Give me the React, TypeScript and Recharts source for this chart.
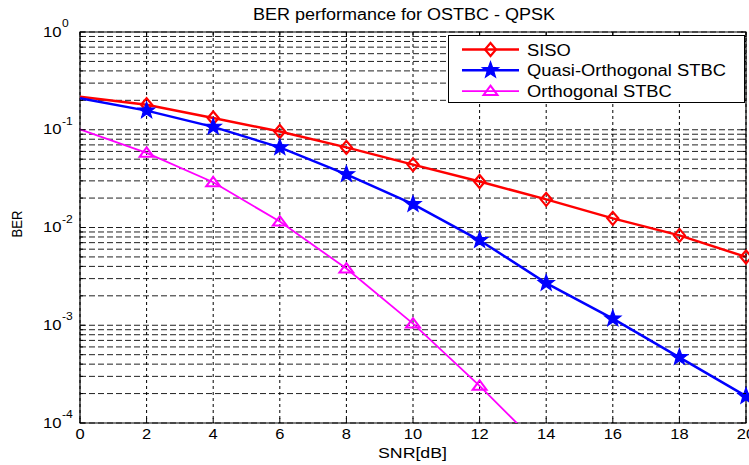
import { LineChart, Line, XAxis, YAxis, CartesianGrid, Legend, ReferenceArea } from 'recharts'

const snr = [0, 2, 4, 6, 8, 10, 12, 14, 16, 18, 20]
const siso = [0.218, 0.18, 0.132, 0.096, 0.066, 0.044, 0.0295, 0.0194, 0.0124, 0.0083, 0.005]
const quasiOrthogonal = [0.21, 0.157, 0.107, 0.066, 0.035, 0.0173, 0.0074, 0.0027, 0.00117, 0.00047, 0.000188]
const orthogonal = [0.101, 0.058, 0.029, 0.0115, 0.0038, 0.00104, 0.00024, 0.00005]

const xTicks = [0, 2, 4, 6, 8, 10, 12, 14, 16, 18, 20]
const decades = [1e-4, 1e-3, 1e-2, 1e-1, 1]
const mantissas = [1, 2, 3, 4, 5, 6, 7, 8, 9]
const yTicks = decades.slice(0, 4).flatMap(d => mantissas.map(m => m * d)).concat([1])

const FONT = '"Liberation Sans", Arial, sans-serif'
const PLOT_W = 666
const PLOT_H = 391

const data = snr.map((s, i) => ({
  snr: s,
  siso: siso[i],
  quasi: quasiOrthogonal[i],
  orth: orthogonal[i] ?? null,
}))

const SERIES = [
  { key: 'siso', name: 'SISO', color: '#ff0000', width: 2.5, marker: 'diamond' },
  { key: 'quasi', name: 'Quasi-Orthogonal STBC', color: '#0000ff', width: 2.5, marker: 'star' },
  { key: 'orth', name: 'Orthogonal STBC', color: '#ff00ff', width: 1.8, marker: 'triangle' },
]

function Marker({ kind, cx, cy, color }: { kind: string; cx: number; cy: number; color: string }) {
  if (kind === 'diamond') {
    return (
      <polygon
        points={`${cx},${cy - 6.5} ${cx + 5.5},${cy} ${cx},${cy + 6.5} ${cx - 5.5},${cy}`}
        fill="none"
        stroke={color}
        strokeWidth={2.2}
      />
    )
  }
  if (kind === 'star') {
    const pts: string[] = []
    for (let k = 0; k < 10; k++) {
      const r = k % 2 === 0 ? 8.5 : 3.5
      const a = -Math.PI / 2 + (k * Math.PI) / 5
      pts.push(`${cx + r * Math.cos(a)},${cy + r * Math.sin(a)}`)
    }
    return <polygon points={pts.join(' ')} fill={color} stroke={color} strokeWidth={1.2} />
  }
  return (
    <polygon
      points={`${cx},${cy - 5.5} ${cx + 7},${cy + 4} ${cx - 7},${cy + 4}`}
      fill="none"
      stroke={color}
      strokeWidth={2}
    />
  )
}

const makeDot = (kind: string, color: string) => (props: any) => {
  const { cx, cy, index, value } = props
  // markers at SNR 0 sit outside the MATLAB axes, so they are not drawn
  if (index === 0 || cx == null || cy == null || value == null) return <g key={`${kind}-${index}`} />
  return (
    <g key={`${kind}-${index}`}>
      <Marker kind={kind} cx={cx} cy={cy} color={color} />
    </g>
  )
}

// axis line sits at the plot bottom; labels drawn below it
const renderXTick = (props: any) => {
  const { x, payload } = props
  const y = 32 + PLOT_H
  return (
    <g key={`xt-${payload.value}`}>
      <line x1={x} y1={y} x2={x} y2={y - 5} stroke="#000" />
      <line x1={x} y1={y - PLOT_H} x2={x} y2={y - PLOT_H + 5} stroke="#000" />
      <text
        transform={`translate(${x},${y + 16}) scale(1.1,1)`}
        textAnchor="middle"
        fontSize={15}
        fontFamily={FONT}
        fill="#000"
      >
        {payload.value}
      </text>
    </g>
  )
}

const renderYTick = (props: any) => {
  const { y, payload } = props
  const x = 80
  const lg = Math.log10(payload.value)
  const isDecade = Math.abs(lg - Math.round(lg)) < 1e-9
  const len = isDecade ? 5 : 3
  return (
    <g key={`yt-${payload.value}`}>
      <line x1={x} y1={y} x2={x + len} y2={y} stroke="#000" />
      <line x1={x + PLOT_W} y1={y} x2={x + PLOT_W - len} y2={y} stroke="#000" />
      {isDecade && (
        <g transform={`translate(${x - 37},${y}) scale(1.15,1)`} fontFamily={FONT} fill="#000">
          <text x={0} y={4.5} fontSize={14.5}>10</text>
          <text x={16.5} y={-5} fontSize={10.5}>{Math.round(lg)}</text>
        </g>
      )}
    </g>
  )
}

const LegendBox = () => (
  <svg width={297} height={68} style={{ display: 'block' }}>
    <rect x={0.5} y={0.5} width={296} height={67} fill="#fff" stroke="#000" />
    {SERIES.map((s, i) => {
      const cy = 14.5 + i * 20.8
      return (
        <g key={s.key}>
          <line x1={14} y1={cy} x2={71} y2={cy} stroke={s.color} strokeWidth={s.width} />
          <Marker kind={s.marker} cx={42.5} cy={cy} color={s.color} />
          <text
            transform={`translate(79,${cy + 6}) scale(1.08,1)`}
            fontSize={17}
            fontFamily={FONT}
            fill="#000"
          >
            {s.name}
          </text>
        </g>
      )
    })}
  </svg>
)

export default function App() {
  return (
    <div style={{ position: 'absolute', left: 0, top: 0, width: 749, height: 465, overflow: 'hidden', background: '#fff' }}>
      <LineChart
        width={770}
        height={465}
        data={data}
        margin={{ top: 32, right: 24, bottom: 12, left: 40 }}
      >
        <CartesianGrid horizontal={true} vertical={false} stroke="#222" strokeDasharray="6 3" />
        <CartesianGrid horizontal={false} vertical={true} stroke="#000" strokeDasharray="3 3" />
        <XAxis
          dataKey="snr"
          type="number"
          domain={[0, 20]}
          ticks={xTicks}
          height={30}
          tickLine={false}
          axisLine={false}
          tick={renderXTick}
          interval={0}
        />
        <YAxis
          scale="log"
          domain={[1e-4, 1]}
          allowDataOverflow
          ticks={yTicks}
          width={40}
          tickLine={false}
          axisLine={false}
          tick={renderYTick}
          interval={0}
        />
        <ReferenceArea x1={0} x2={20} y1={1e-4} y2={1} fill="none" stroke="#000" strokeWidth={1.2} />
        {SERIES.map(s => (
          <Line
            key={s.key}
            type="linear"
            dataKey={s.key}
            name={s.name}
            stroke={s.color}
            strokeWidth={s.width}
            dot={makeDot(s.marker, s.color)}
            activeDot={false}
            isAnimationActive={false}
          />
        ))}
        <Legend
          layout="horizontal"
          verticalAlign="middle"
          align="center"
          content={<LegendBox />}
          wrapperStyle={{ left: 448, top: 35, width: 297, height: 68 }}
        />
      </LineChart>
      <svg
        width={749}
        height={465}
        style={{ position: 'absolute', left: 0, top: 0, pointerEvents: 'none' }}
        fontFamily={FONT}
      >
        <text x={253} y={20} fontSize={16} textLength={302} lengthAdjust="spacingAndGlyphs" fill="#000">
          BER performance for OSTBC - QPSK
        </text>
        <text x={378} y={458} fontSize={15} textLength={69} lengthAdjust="spacingAndGlyphs" fill="#000">
          SNR[dB]
        </text>
        <text
          transform="translate(22,224) rotate(-90)"
          textAnchor="middle"
          fontSize={15}
          textLength={27}
          lengthAdjust="spacingAndGlyphs"
          fill="#000"
        >
          BER
        </text>
      </svg>
    </div>
  )
}
